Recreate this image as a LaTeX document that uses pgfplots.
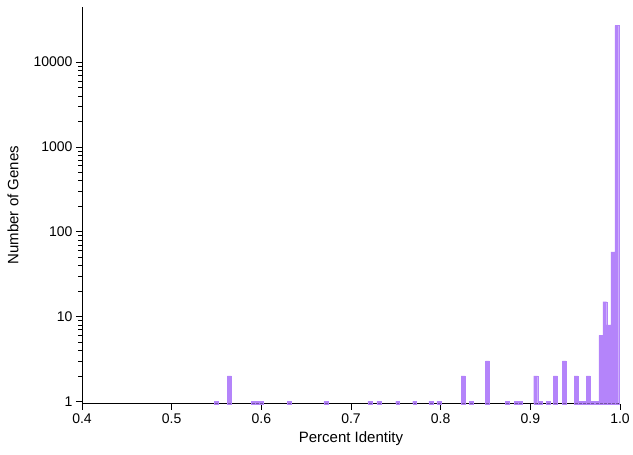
\documentclass[border=0pt]{standalone}
\usepackage{fontspec}
\setmainfont{Liberation Sans}
\usepackage{pgfplots}
\pgfplotsset{compat=1.18}
\definecolor{barc}{RGB}{180,132,250}

\begin{document}
\begin{tikzpicture}
\begin{axis}[
    scale only axis,
    width=538pt, height=397pt,
    xmin=0.4, xmax=1.0,
    ymode=log, ymin=0.94, ymax=45000,
    log origin=infty,
    axis lines*=left,
    axis line style={line width=0.8pt},
    tick style={black, line width=0.6pt},
    tick align=outside,
    major tick length=6pt,
    minor tick length=3.5pt,
    xtick={0.4,0.5,...,1.0},
    xticklabel style={/pgf/number format/.cd, fixed, fixed zerofill, precision=1},
    ytick={1,10,100,1000,10000},
    yticklabels={1,10,100,1000,10000},
    /pgf/number format/assume math mode=true,
    tick label style={font=\fontsize{14}{16}\selectfont},
    label style={font=\fontsize{15}{17}\selectfont},
    xlabel={Percent Identity},
    ylabel={Number of Genes},
    xlabel style={at={(axis description cs:0.5,-0.088)}, anchor=center},
    ylabel style={at={(axis description cs:-0.128,0.5)}, anchor=center},
    clip=false,
]
\coordinate (bl) at (rel axis cs:0,0);
\coordinate (tr) at (rel axis cs:1,1);
\addplot[ybar, bar width=0.0044, fill=barc, draw=barc, line width=0.3pt] coordinates {
    (0.5500,1) (0.5643,2)
    (0.5913,1) (0.5957,1) (0.6000,1)
    (0.6310,1) (0.6720,1) (0.7210,1) (0.7310,1) (0.7520,1)
    (0.7710,1) (0.7890,1) (0.7980,1)
    (0.8250,2) (0.8340,1) (0.8522,3)
    (0.8740,1) (0.8841,1) (0.8887,1)
    (0.9060,2) (0.9108,1) (0.9200,1) (0.9280,2)
    (0.9378,3) (0.9509,2) (0.9555,1) (0.9602,1)
    (0.9646,2) (0.9694,1) (0.9741,1)
    (0.9786,6) (0.9830,15) (0.9875,8) (0.9920,58) (0.9964,27000)
};
\end{axis}
\pgfresetboundingbox
\path ([xshift=-82pt,yshift=-51pt]bl) rectangle ([xshift=13pt,yshift=6.7pt]tr);
\end{tikzpicture}
\end{document}
